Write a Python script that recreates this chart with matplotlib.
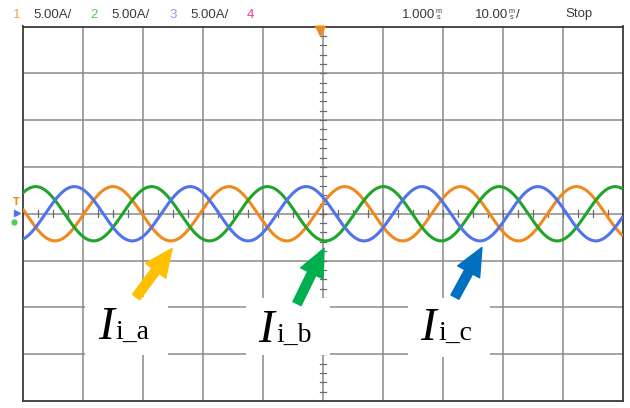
import numpy as np
import matplotlib
matplotlib.use("Agg")
import matplotlib.pyplot as plt
from matplotlib.patches import Rectangle, FancyArrowPatch
from matplotlib.transforms import offset_copy

# ---- scope settings -------------------------------------------------------
channels = ["1", "2", "3", "4"]
channel_scales = ["5.00A/", "5.00A/", "5.00A/", ""]
channel_colors = ["#f5a04c", "#5ac85a", "#8a9cf0", "#ee3a9a"]

time_div_ms = 10.0
amp_div_a = 5.0
n_xdiv, n_ydiv = 10, 8

# ---- three-phase inverter currents ---------------------------------------
phase_labels = ["i_a", "i_b", "i_c"]
trace_colors = ["#f08a1c", "#1fa52a", "#4f74ec"]
amplitude_a = [2.9, 2.9, 2.9]
phase_deg = [-67.9, -187.9, 52.1]
line_freq_hz = 51.8

# label arrows (tail -> tip) and label anchors, in ms / A
arrow_colors = ["#ffc000", "#00b050", "#0070c0"]
arrow_tail = [(-31.1, -8.9), (-4.3, -9.6), (22.0, -8.9)]
arrow_tip = [(-25.1, -3.7), (0.2, -3.7), (26.5, -3.6)]
label_xy = [(-37.5, -13.4), (-10.8, -13.7), (16.2, -13.5)]
label_box = [(-39.6, -15.1, 13.8, 6.2), (-12.8, -15.1, 14.0, 6.1), (14.2, -15.3, 13.6, 6.3)]

W, H, DPI = 630, 408, 100
fig = plt.figure(figsize=(W / DPI, H / DPI), dpi=DPI)
fig.patch.set_facecolor("white")

left_px, right_px, top_px, bot_px = 22.7, 623.0, 26.5, 401.0
ax = fig.add_axes([left_px / W, 1 - bot_px / H,
                   (right_px - left_px) / W, (bot_px - top_px) / H])

xmax = n_xdiv / 2 * time_div_ms
ymax = n_ydiv / 2 * amp_div_a
ax.set_xlim(-xmax, xmax)
ax.set_ylim(-ymax, ymax)
ax.set_xticks([])
ax.set_yticks([])
for s in ax.spines.values():
    s.set_color("#3a3a3a")
    s.set_linewidth(1.3)

grid_c = "#8a8a8a"
for k in range(1, n_xdiv):
    ax.axvline(-xmax + k * time_div_ms, color=grid_c, lw=1.1, zorder=1)
for k in range(1, n_ydiv):
    ax.axhline(-ymax + k * amp_div_a, color=grid_c, lw=1.1, zorder=1)

# minor ticks on the centre cross
for xt in np.arange(-xmax, xmax + 1e-9, time_div_ms / 4):
    ax.plot([xt, xt], [-0.35, 0.35], color="#6a6a6a", lw=0.9, zorder=1)
for yt in np.arange(-ymax, ymax + 1e-9, amp_div_a / 5):
    ax.plot([-0.5, 0.5], [yt, yt], color="#6a6a6a", lw=0.9, zorder=1)

# current traces
t = np.linspace(-xmax, xmax, 3001)
for amp, ph, col in zip(amplitude_a, phase_deg, trace_colors):
    i = amp * np.cos(2 * np.pi * line_freq_hz * t / 1000.0 + np.deg2rad(ph))
    ax.plot(t, i, color=col, lw=2.2, zorder=3, solid_capstyle="butt")

# trigger marker at top centre
ax.plot([-0.45], [ymax - 0.45], marker="v", ms=9, color="#f08a1c",
        clip_on=False, zorder=5, mec="none")

# channel ground markers on the left edge
ax.text(-xmax - 1.0, 1.3, "T", color="#f08a1c", fontsize=7, ha="center",
        va="center", clip_on=False, fontweight="bold")
ax.plot([-xmax - 1.0], [0.1], marker=">", ms=5, color="#4f74ec", clip_on=False)
ax.plot([-xmax - 1.4], [-0.9], marker="o", ms=3.5, color="#5ac85a", clip_on=False)

# label boxes, arrows and text
for (bx, by, bw, bh), tail, tip, col, (lx, ly), sub in zip(
        label_box, arrow_tail, arrow_tip, arrow_colors, label_xy, phase_labels):
    ax.add_patch(Rectangle((bx, by), bw, bh, facecolor="white",
                           edgecolor="none", zorder=4))
    ax.add_patch(FancyArrowPatch(
        tail, tip, arrowstyle="simple,head_length=2.0,head_width=1.8,tail_width=0.65",
        mutation_scale=10, color=col, shrinkA=0, shrinkB=0, zorder=6))
    ax.text(lx, ly, "I", fontsize=34, family="Liberation Serif",
            style="italic", va="baseline", ha="left", zorder=7)
    tr = offset_copy(ax.transData, fig=fig, x=18, y=0, units="dots")
    ax.text(lx, ly, sub, fontsize=20, family="Liberation Serif",
            va="baseline", ha="left", transform=tr, zorder=7)

# header line
hdr_y = 1 - 14.5 / H
hfont = dict(family="Liberation Sans", fontsize=9.5, va="center", ha="left")
num_x = [12.7, 90.0, 169.0, 247.0]
scale_x = [33.0, 111.7, 190.0, None]
for ch, sc, col, nx, sx in zip(channels, channel_scales, channel_colors, num_x, scale_x):
    fig.text(nx / W, hdr_y, ch, color=col, **hfont)
    if sx is not None:
        fig.text(sx / W, hdr_y, sc, color="#3a3a3a", **hfont)

rfont = dict(family="Liberation Sans", fontsize=9.5, va="center", ha="left",
             color="#3a3a3a")


def stacked_unit(x_px):
    fig.text(x_px / W, hdr_y, "m\ns", color="#3a3a3a", fontsize=5.2,
             family="Liberation Sans", ha="left", va="center",
             linespacing=0.8, multialignment="center")


fig.text(402 / W, hdr_y, "1.000", **rfont)
stacked_unit(436.0)
fig.text(475 / W, hdr_y, "10.00", **rfont)
stacked_unit(509.0)
fig.text(516 / W, hdr_y, "/", **rfont)
fig.text(565 / W, hdr_y, "Stop", **rfont)

fig.savefig("out.png", dpi=DPI, facecolor="white")
